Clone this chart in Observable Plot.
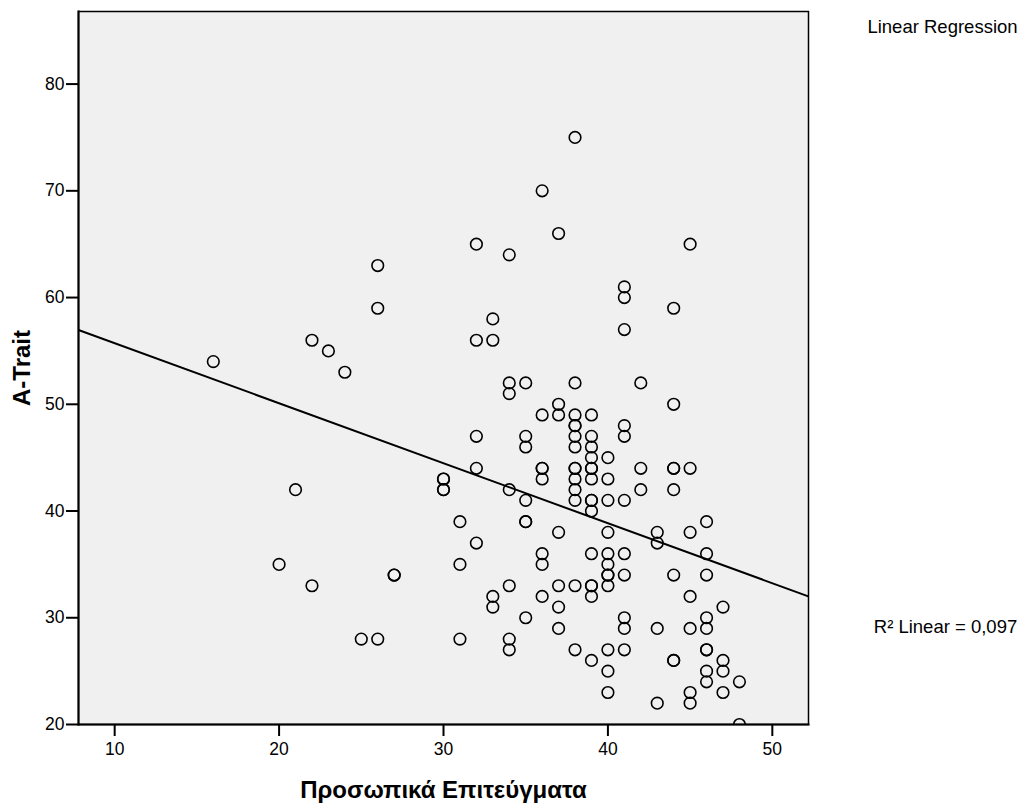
<!DOCTYPE html>
<html>
<head>
<meta charset="utf-8">
<script src="https://cdn.jsdelivr.net/npm/d3@7"></script>
<script src="https://cdn.jsdelivr.net/npm/@observablehq/plot@0.6"></script>
<style>
  html, body { margin: 0; padding: 0; background: #ffffff; }
  #chart { width: 1026px; height: 803px; }
</style>
</head>
<body>
<div id="chart"></div>
<script>
// Προσωπικά Επιτεύγματα (x) and A-Trait (y), one entry per respondent
const achievement = [
  16, 20, 21, 22, 22, 23, 24, 25, 26, 26, 26, 27, 27,
  30, 30, 30, 30, 31, 31, 31,
  32, 32, 32, 32, 32,
  33, 33, 33, 33,
  34, 34, 34, 34, 34, 34, 34,
  35, 35, 35, 35, 35, 35, 35,
  36, 36, 36, 36, 36, 36, 36, 36,
  37, 37, 37, 37, 37, 37, 37,
  38, 38, 38, 38, 38, 38, 38, 38, 38, 38, 38, 38, 38, 38,
  39, 39, 39, 39, 39, 39, 39, 39, 39, 39, 39, 39, 39, 39, 39,
  40, 40, 40, 40, 40, 40, 40, 40, 40, 40, 40, 40,
  41, 41, 41, 41, 41, 41, 41, 41, 41, 41, 41,
  42, 42, 42,
  43, 43, 43, 43,
  44, 44, 44, 44, 44, 44, 44, 44,
  45, 45, 45, 45, 45, 45, 45,
  46, 46, 46, 46, 46, 46, 46, 46, 46,
  47, 47, 47, 47,
  48, 48
];
const aTrait = [
  54, 35, 42, 56, 33, 55, 53, 28, 63, 59, 28, 34, 34,
  43, 43, 42, 42, 39, 35, 28,
  65, 56, 47, 44, 37,
  58, 56, 32, 31,
  64, 52, 51, 42, 33, 28, 27,
  52, 47, 46, 41, 39, 39, 30,
  70, 49, 44, 44, 43, 36, 35, 32,
  66, 50, 49, 38, 33, 31, 29,
  75, 52, 49, 48, 48, 47, 46, 44, 44, 43, 42, 41, 33, 27,
  49, 47, 46, 45, 44, 44, 43, 41, 41, 40, 36, 33, 33, 32, 26,
  45, 43, 41, 38, 36, 35, 34, 34, 33, 27, 25, 23,
  61, 60, 57, 48, 47, 41, 36, 34, 30, 29, 27,
  52, 44, 42,
  38, 37, 29, 22,
  59, 50, 44, 44, 42, 34, 26, 26,
  65, 44, 38, 32, 29, 23, 22,
  39, 36, 34, 30, 29, 27, 27, 25, 24,
  31, 26, 25, 23,
  24, 20
];

const xTicks = [10, 20, 30, 40, 50];
const yTicks = [20, 30, 40, 50, 60, 70, 80];
const xDomain = [7.8, 52.2];
const yDomain = [20, 86.8];

const xLabel = "Προσωπικά Επιτεύγματα";
const yLabel = "A-Trait";
const fitTitle = "Linear Regression";
const r2Label = "R\u00B2 Linear = 0,097";

const points = achievement.map((x, i) => ({x, y: aTrait[i]}));

// least-squares fit computed from the data
const mx = d3.mean(achievement), my = d3.mean(aTrait);
const sxy = d3.sum(points, d => (d.x - mx) * (d.y - my));
const sxx = d3.sum(points, d => (d.x - mx) ** 2);
const slope = sxy / sxx;
const intercept = my - slope * mx;
const fit = xDomain.map(x => ({x, y: intercept + slope * x}));

const chart = Plot.plot({
  width: 1026,
  height: 803,
  marginLeft: 78,
  marginRight: 218,
  marginTop: 11,
  marginBottom: 79,
  style: {fontFamily: "'Liberation Sans', Arial, sans-serif", background: "#ffffff", color: "#000"},
  x: {domain: xDomain, ticks: xTicks},
  y: {domain: yDomain, ticks: yTicks},
  marks: [
    Plot.frame({fill: "#f0f0f0", stroke: "none"}),
    Plot.line(fit, {x: "x", y: "y", stroke: "#000", strokeWidth: 2, clip: true}),
    Plot.dot(points, {x: "x", y: "y", r: 5.8, stroke: "#000", strokeWidth: 1.6, fill: "none", clip: true}),
    Plot.frame({stroke: "#000", strokeWidth: 1.5}),
    Plot.frame({anchor: "left", stroke: "#000", strokeWidth: 2}),
    Plot.frame({anchor: "bottom", stroke: "#000", strokeWidth: 2}),
    Plot.axisX({ticks: xTicks, tickSize: 12, tickPadding: 6, fontSize: 17.5, strokeWidth: 2, label: null}),
    Plot.axisY({ticks: yTicks, tickSize: 12, tickPadding: 2, fontSize: 17.5, strokeWidth: 2, label: null}),
    Plot.text([xLabel], {frameAnchor: "bottom", dy: 73, lineAnchor: "bottom", textAnchor: "middle", fontSize: 24, fontWeight: "bold", fill: "#000"}),
    Plot.text([yLabel], {frameAnchor: "left", dx: -56, rotate: -90, lineAnchor: "middle", textAnchor: "middle", fontSize: 24, fontWeight: "bold", fill: "#000"}),
    Plot.text([fitTitle], {frameAnchor: "top-right", dx: 134, dy: 21, lineAnchor: "bottom", textAnchor: "middle", fontSize: 18.5, fill: "#000"}),
    Plot.text([r2Label], {frameAnchor: "top-right", dx: 137, dy: 621, lineAnchor: "bottom", textAnchor: "middle", fontSize: 18.5, fill: "#000"})
  ]
});
document.getElementById("chart").appendChild(chart);
</script>
</body>
</html>
